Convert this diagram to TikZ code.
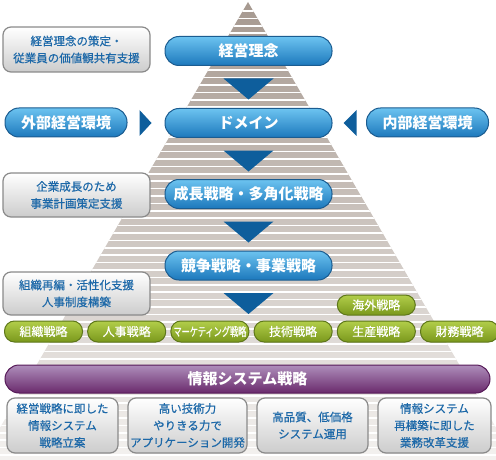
\documentclass[tikz,border=0pt]{standalone}
\usepackage{fontspec}
\setmainfont{Noto Sans CJK JP}
\newfontfamily\jpmid[FakeBold=0.5]{Noto Sans CJK JP}
\usepackage{graphicx}
\usepackage{xcolor}
\usepackage{tikz}
\usetikzlibrary{positioning, calc}

\definecolor{bluetop}{HTML}{6CC3F0}
\definecolor{bluebot}{HTML}{1C78BC}
\definecolor{blueline}{HTML}{1B5C90}
\definecolor{arrowblue}{HTML}{0E5E9C}
\definecolor{greentop}{HTML}{B2CE4A}
\definecolor{greenbot}{HTML}{7A981C}
\definecolor{greenline}{HTML}{5E771A}
\definecolor{purpletop}{HTML}{AE8EBB}
\definecolor{purplebot}{HTML}{6A2A6C}
\definecolor{purpleline}{HTML}{561A58}
\definecolor{greyline}{HTML}{8A8A8A}
\definecolor{greybot}{HTML}{CCCCCC}
\definecolor{textblue}{HTML}{1C68A8}
\definecolor{pyrtop}{HTML}{A69990}
\definecolor{pyrbot}{HTML}{F4F2F0}

\begin{document}
\begin{tikzpicture}[
        x=1pt, y=-1pt,
        mainbox/.style={draw=blueline, line width=1pt, rounded corners=14pt, top color=bluetop, bottom color=bluebot, text=white, minimum width=167pt, minimum height=29pt, inner sep=0pt, font=\fontsize{15}{18}\selectfont\bfseries},
        sidebox/.style={mainbox, minimum width=122pt},
        greybox/.style={draw=greyline, line width=1.2pt, rounded corners=8pt, top color=white, bottom color=greybot, text=textblue, align=center, inner sep=0pt, font=\jpmid\fontsize{11.5}{17}\selectfont},
        pill/.style={draw=greenline, line width=1pt, rounded corners=10pt, top color=greentop, bottom color=greenbot, text=white, minimum width=78pt, minimum height=21pt, inner sep=0pt, font=\jpmid\fontsize{12}{14}\selectfont},
        infobar/.style={draw=purpleline, line width=1pt, rounded corners=14pt, top color=purpletop, bottom color=purplebot, text=white, minimum width=485pt, minimum height=28pt, inner sep=0pt, font=\fontsize{15}{18}\selectfont\bfseries},
        downarrow/.style={fill=arrowblue}
    ]
    \useasboundingbox (0,0) rectangle (496,460);

    % Striped pyramid in the background
    \begin{scope}
        \clip (0,0) rectangle (496,460);
        \shade[top color=pyrtop, bottom color=pyrbot] (248,2) -- (-20,462) -- (516,462) -- cycle;
        \clip (248,2) -- (-20,462) -- (516,462) -- cycle;
        \foreach \y in {11,18.4,...,460}
            \draw[white, line width=1.6pt] (0,\y) -- (496,\y);
    \end{scope}

    % Main column
    \node[mainbox] (rinen) at (248.5,51) {経営理念};
    \node[mainbox] (domain) [below=42pt of rinen] {ドメイン};
    \node[mainbox] (seicho) [below=41pt of domain] {成長戦略・多角化戦略};
    \node[mainbox] (kyoso) [below=41.5pt of seicho] {競争戦略・事業戦略};

    % Down arrows between levels
    \foreach \n in {rinen, domain, seicho, kyoso}
        \fill[downarrow] ($(\n.south)+(-25,12.5)$) -- ($(\n.south)+(25,12.5)$) -- ($(\n.south)+(0,33.5)$) -- cycle;

    % Environment boxes on both sides
    \node[sidebox] (gaibu) at (66,122.5) {外部経営環境};
    \node[sidebox] (naibu) at (427.5,122.5) {内部経営環境};
    \fill[downarrow] ($(domain.west)+(-25,-13)$) -- ($(domain.west)+(-13,0)$) -- ($(domain.west)+(-25,13)$) -- cycle;
    \fill[downarrow] ($(domain.east)+(24,-13)$) -- ($(domain.east)+(11,0)$) -- ($(domain.east)+(24,13)$) -- cycle;

    % Support boxes on the left
    \node[greybox, minimum width=147pt, minimum height=45pt] (shien1) at (76.5,49.5) {経営理念の策定・\\従業員の価値観共有支援};
    \node[greybox, minimum width=147pt, minimum height=44pt] (shien2) at (76.5,195) {企業成長のため\\事業計画策定支援};
    \node[greybox, minimum width=147pt, minimum height=43pt] (shien3) at (76.5,293.5) {組織再編・活性化支援\\人事制度構築};

    % Functional strategies
    \node[pill] (soshiki) at (43.5,331.5) {組織戦略};
    \node[pill] (jinji) [right=4.2pt of soshiki] {人事戦略};
    \node[pill] (marketing) [right=4.2pt of jinji] {\scalebox{0.68}[1]{マーケティング戦略}};
    \node[pill] (gijutsu) [right=4.2pt of marketing] {技術戦略};
    \node[pill] (seisan) [right=4.2pt of gijutsu] {生産戦略};
    \node[pill] (zaimu) [right=4.2pt of seisan] {財務戦略};
    \node[pill, minimum height=20pt] (kaigai) [above=5pt of seisan] {海外戦略};

    % Information system strategy
    \node[infobar] (joho) at (247.5,379) {情報システム戦略};

    \node[greybox, minimum width=111pt, minimum height=55pt] (sys1) at (62.5,425.5) {経営戦略に即した\\情報システム\\戦略立案};
    \node[greybox, minimum width=119pt, minimum height=55pt] (sys2) at (187.5,425.5) {高い技術力\\やりきる力で\\アプリケーション開発};
    \node[greybox, minimum width=111pt, minimum height=55pt] (sys3) at (312.5,425.5) {高品質、低価格\\システム運用};
    \node[greybox, minimum width=113pt, minimum height=55pt] (sys4) at (434.5,425.5) {情報システム\\再構築に即した\\業務改革支援};

\end{tikzpicture}
\end{document}
